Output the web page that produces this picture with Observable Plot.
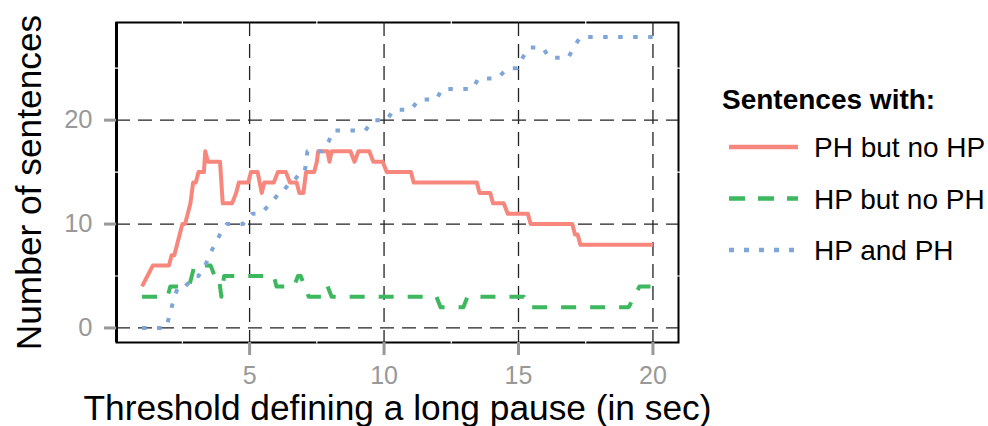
<!DOCTYPE html>
<html><head><meta charset="utf-8">
<script src="https://cdn.jsdelivr.net/npm/d3@7"></script>
<script src="https://cdn.jsdelivr.net/npm/@observablehq/plot@0.6"></script>
<style>
body{margin:0;background:#fff;font-family:"Liberation Sans",Arial,sans-serif;}
#wrap{position:relative;width:988px;height:426px;overflow:hidden;}
#wrap svg{position:absolute;left:0;top:0;}
</style></head><body><div id="wrap"></div>
<script>
// ---- data ----
const seriesNames = ["PH but no HP", "HP but no PH", "HP and PH"];
const legendTitle = "Sentences with:";
const xTitle = "Threshold defining a long pause (in sec)";
const yTitle = "Number of sentences";
const xTicks = [5, 10, 15, 20];
const yTicks = [0, 10, 20];
const xMinor = [2.5, 7.5, 12.5, 17.5];
const yMinor = [5, 15, 25];

const phX = [1,1.2,1.4,2.0,2.1,2.2,2.3,2.4,2.5,2.6,2.7,2.8,2.9,3.0,3.1,3.3,3.35,3.45,3.9,4.0,4.35,4.5,4.6,4.95,5.05,5.3,5.45,5.55,5.9,6.05,6.35,6.5,6.75,6.85,7.0,7.1,7.4,7.5,7.55,7.9,7.97,8.05,8.75,8.9,9.05,9.45,9.6,9.95,10.1,11.0,11.1,13.45,13.55,13.95,14.05,14.45,14.6,15.35,15.45,17.0,17.1,17.2,17.3,20];
const phY = [4,5,6,6,7,7,8,9,10,10,11,12,14,14,15,15,17,16,16,12,12,13,14,14,15,15,13,14,14,15,15,14,14,13,13,15,15,16,17,17,16,17,17,16,17,17,16,16,15,15,14,14,13,13,12,12,11,11,10,10,9,9,8,8];

const hpX = [1,1.95,2.05,2.75,2.85,2.95,3.55,3.7,3.85,3.95,4.05,5.9,6.0,6.65,6.8,6.9,7.05,7.2,7.75,7.9,8.05,11.95,12.1,12.95,13.1,15.2,15.4,19.1,19.3,19.5,20];
const hpY = [3,3,4,4,5,6,6,5,5,3,5,5,4,4,5,5,4,3,3,4,3,3,2,2,3,3,2,2,3,4,4];

const bothX = [1,1.9,2.0,2.1,2.2,2.35,2.6,3.0,3.1,3.35,3.5,3.7,3.9,4.15,4.75,5.1,5.4,5.8,6.1,6.2,6.5,6.6,6.9,7.05,7.15,7.7,7.95,8.1,9.3,9.6,10.1,10.35,11.0,11.3,11.95,12.15,13.3,13.5,14.2,14.6,14.95,15.15,15.4,15.9,16.15,16.85,17.05,17.3,20];
const bothY = [0,0,1,2,3,4,4,5,5,6,7,8,9,10,10,11,11,12,13,13,14,14,15,15,17,17,18,19,19,20,20,21,21,22,22,23,23,24,24,25,25,26,27,27,26,26,27,28,28];

const colors = ["#F7877D", "#3DB85E", "#7FA6DA"];
const dashes = [null, "15,14", "4.5,10.5"];

// ---- build ----
const toRows = (xs, ys) => xs.map((x, i) => ({x, y: ys[i]}));
const rows = [toRows(phX, phY), toRows(hpX, hpY), toRows(bothX, bothY)];
const font = "Liberation Sans, Arial, sans-serif";

const lineMarks = rows.map((r, i) => Plot.line(r, {
  x: "x", y: "y", stroke: colors[i], strokeWidth: 4,
  strokeDasharray: dashes[i] || undefined,
  strokeLinecap: "butt", strokeLinejoin: "round"
}));

const chart = Plot.plot({
  width: 988, height: 426,
  marginLeft: 116, marginRight: 310, marginTop: 22, marginBottom: 84,
  x: {domain: [0.05, 20.95]},
  y: {domain: [-1.4, 29.4]},
  style: {fontFamily: font, background: "white", overflow: "visible"},
  marks: [
    Plot.frame({stroke: "black", strokeWidth: 2}),
    Plot.ruleX([0.05], {stroke: "black", strokeWidth: 3}),
    Plot.ruleX(xMinor, {y1: -1.55, y2: 29.55, stroke: "white", strokeWidth: 1.2}),
    Plot.ruleY(yMinor, {x1: -0.05, x2: 21.05, stroke: "white", strokeWidth: 1.2}),
    Plot.ruleX(xTicks, {stroke: "#222", strokeWidth: 1.3, strokeDasharray: "14,8"}),
    Plot.ruleY(yTicks, {stroke: "#222", strokeWidth: 1.3, strokeDasharray: "14,8"}),
    ...lineMarks,
    Plot.axisX({ticks: xTicks, tickSize: 13, tickPadding: 11, fontSize: 25, color: "#999", strokeWidth: 3, label: null}),
    Plot.axisY({ticks: yTicks, tickSize: 12, tickPadding: 12, fontSize: 25.5, color: "#999", strokeWidth: 3, label: null}),
    Plot.text([xTitle], {text: d => d, frameAnchor: "bottom", dy: 66, fontSize: 35.3, fill: "black", lineAnchor: "middle", textAnchor: "middle"}),
    Plot.text([yTitle], {text: d => d, frameAnchor: "left", dx: -87, rotate: -90, fontSize: 35.3, fill: "black", lineAnchor: "middle", textAnchor: "middle"})
  ]
});
document.getElementById("wrap").appendChild(chart);

// ---- legend ----
const lg = d3.select("#wrap").append("svg").attr("width", 988).attr("height", 426)
  .style("font-family", font).style("pointer-events", "none");
lg.append("text").attr("x", 722).attr("y", 109).attr("font-size", 28).attr("font-weight", "bold")
  .attr("fill", "black").text(legendTitle);
const keyY = [147, 198.5, 250];
seriesNames.forEach((name, i) => {
  lg.append("line").attr("x1", 729).attr("x2", 798).attr("y1", keyY[i]).attr("y2", keyY[i])
    .attr("stroke", colors[i]).attr("stroke-width", 4.5)
    .attr("stroke-dasharray", i === 1 ? "16,13" : i === 2 ? "5,10" : null);
  lg.append("text").attr("x", 814).attr("y", keyY[i] + 10).attr("font-size", 28)
    .attr("fill", "black").text(name);
});
</script></body></html>
